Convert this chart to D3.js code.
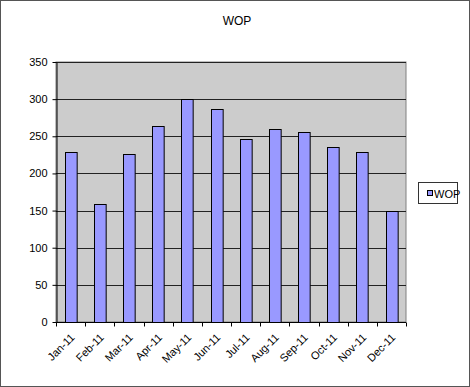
<!DOCTYPE html>
<html>
<head>
<meta charset="utf-8">
<script src="https://cdn.jsdelivr.net/npm/d3@7"></script>
<style>
  body { margin: 0; background: #fff; }
  svg { display: block; font-family: Arial, "Liberation Sans", sans-serif; }
</style>
</head>
<body>
<svg id="chart"></svg>
<script>
const months = ["Jan-11", "Feb-11", "Mar-11", "Apr-11", "May-11", "Jun-11",
  "Jul-11", "Aug-11", "Sep-11", "Oct-11", "Nov-11", "Dec-11"];
const wop = [229, 159, 226, 264, 300, 287, 247, 260, 256, 235, 229, 150];
const yTicks = [0, 50, 100, 150, 200, 250, 300, 350];

const width = 470;
const height = 387;
const margin = { top: 62, right: 64, bottom: 65, left: 56 };
const innerWidth = width - margin.left - margin.right;
const innerHeight = height - margin.top - margin.bottom;

const svg = d3.select("#chart").attr("width", width).attr("height", height);

// outer frame
svg.append("rect")
  .attr("x", 0.5).attr("y", 0.5)
  .attr("width", width - 1).attr("height", height - 1)
  .attr("fill", "#fff").attr("stroke", "#555");

svg.append("text")
  .attr("x", 237).attr("y", 25)
  .attr("text-anchor", "middle")
  .style("font-size", "12px")
  .text("WOP");

const chartArea = svg.append("g").attr("transform", `translate(${margin.left},${margin.top})`);

const xScale = d3.scaleBand().domain(months).range([0, innerWidth]).paddingInner(0.6).paddingOuter(0.3);
const yScale = d3.scaleLinear().domain([0, 350]).range([innerHeight, 0]);

// plot background
chartArea.append("rect")
  .attr("width", innerWidth).attr("height", innerHeight)
  .attr("fill", "#cccccc").attr("stroke", "#808080");

// gridlines
chartArea.selectAll(".grid")
  .data(yTicks.filter(d => d > 0))
  .enter().append("line")
  .attr("x1", 0).attr("x2", innerWidth)
  .attr("y1", d => Math.round(yScale(d)) + 0.5)
  .attr("y2", d => Math.round(yScale(d)) + 0.5)
  .attr("stroke", "#222").attr("stroke-width", 1);

// bars
chartArea.selectAll(".bar")
  .data(wop)
  .enter().append("rect")
  .attr("x", (d, i) => Math.round(xScale(months[i])) + 0.5)
  .attr("y", d => Math.round(yScale(d)) + 0.5)
  .attr("width", xScale.bandwidth())
  .attr("height", d => innerHeight - Math.round(yScale(d)))
  .attr("fill", "#9999ff").attr("stroke", "#000");

// y axis
const yAxis = chartArea.append("g")
  .attr("transform", "translate(0.5,0)")
  .call(d3.axisLeft(yScale).tickValues(yTicks).tickSize(4).tickSizeOuter(0));
yAxis.select(".domain").attr("stroke", "#000");
yAxis.selectAll("text").style("font-size", "11px").attr("x", -9).attr("fill", "#000");

// x axis with ticks at band boundaries
const xAxisG = chartArea.append("g").attr("transform", `translate(0,${innerHeight + 0.5})`);
xAxisG.append("line").attr("x1", 0).attr("x2", innerWidth).attr("stroke", "#000");
const step = innerWidth / months.length;
xAxisG.selectAll(".xt")
  .data(d3.range(months.length + 1))
  .enter().append("line")
  .attr("x1", i => Math.round(i * step) + 0.5).attr("x2", i => Math.round(i * step) + 0.5)
  .attr("y1", 0).attr("y2", 4)
  .attr("stroke", "#000");
xAxisG.selectAll(".xl")
  .data(months)
  .enter().append("text")
  .attr("transform", d => `translate(${xScale(d) + xScale.bandwidth() / 2 + 2},13) rotate(-45)`)
  .attr("text-anchor", "end")
  .attr("dy", "0.35em")
  .style("font-size", "11px")
  .text(d => d);

// legend
const legend = svg.append("g").attr("transform", "translate(418,182)");
legend.append("rect")
  .attr("x", 0.5).attr("y", 0.5).attr("width", 39).attr("height", 21)
  .attr("fill", "#fff").attr("stroke", "#333");
legend.append("rect")
  .attr("x", 9.5).attr("y", 8.5).attr("width", 5).attr("height", 5)
  .attr("fill", "#9999ff").attr("stroke", "#000");
legend.append("text")
  .attr("x", 16).attr("y", 15.5)
  .style("font-size", "11px")
  .text("WOP");
</script>
</body>
</html>
